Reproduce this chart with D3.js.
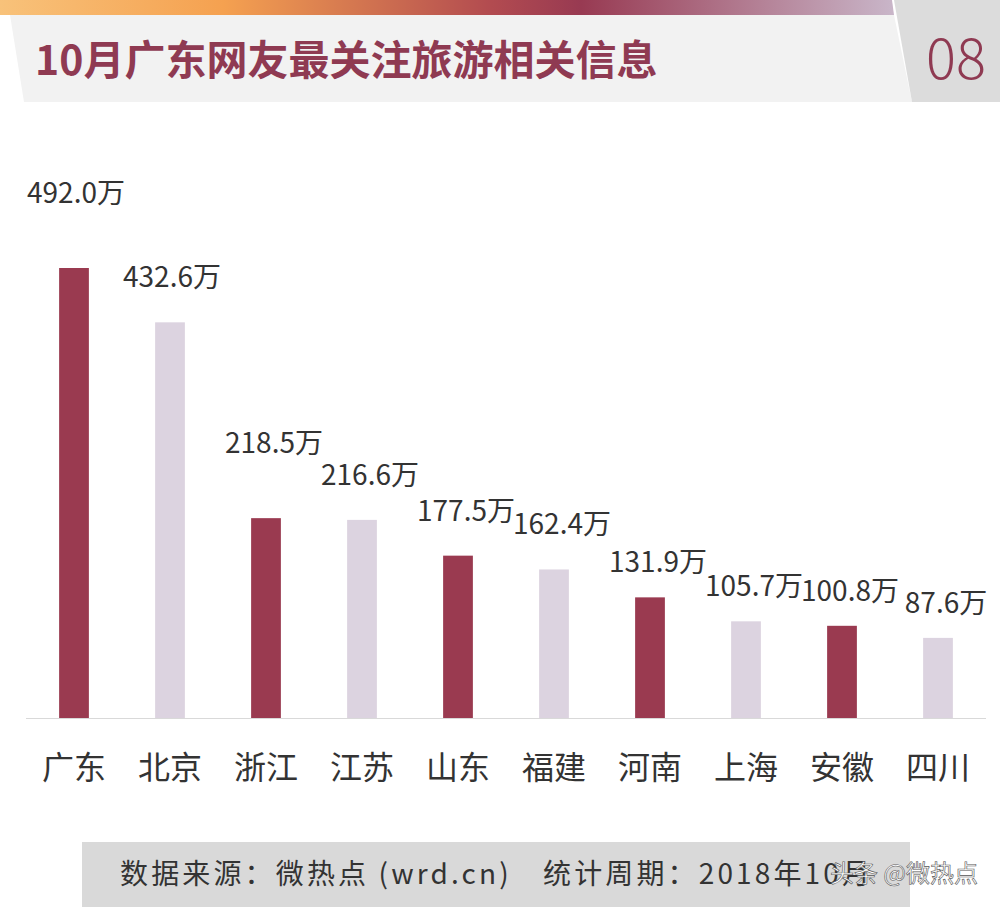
<!DOCTYPE html><html><head><meta charset="utf-8"><script src="https://cdn.jsdelivr.net/npm/d3@7"></script>
<style>body{margin:0;background:#fff}</style></head><body><svg id="c" width="1000" height="907"></svg>
<script>
const categories=["广东","北京","浙江","江苏","山东","福建","河南","上海","安徽","四川"];
const values=[492.0,432.6,218.5,216.6,177.5,162.4,131.9,105.7,100.8,87.6];
const unit="万";
const svg=d3.select("#c");
const F="'Noto Sans CJK SC','Noto Sans',sans-serif";
const defs=svg.append("defs");
const g=defs.append("linearGradient").attr("id","hg");
[[0,"#f8c27a"],[0.25,"#f5a150"],[0.55,"#b24b50"],[0.65,"#983a52"],[1,"#c9b6c9"]].forEach(s=>g.append("stop").attr("offset",s[0]).attr("stop-color",s[1]));
svg.append("polygon").attr("points","0,0 892,0 894,15 0,15").attr("fill","url(#hg)");
svg.append("polygon").attr("points","10,15 894,15 912,102 24,102").attr("fill","#f2f2f2");
svg.append("polygon").attr("points","894,0 1000,0 1000,102 912,102").attr("fill","#dcdcdc");
svg.append("text").attr("x",35).attr("y",75).attr("font-family",F).attr("font-weight",700).attr("font-size",41).attr("fill","#8f3a52").text("10月广东网友最关注旅游相关信息");
svg.append("text").attr("x",986).attr("y",79).attr("text-anchor","end").attr("font-family",F).attr("font-weight",300).attr("font-size",56).attr("fill","#8f3a52").text("08");
const x=d3.scaleBand().domain(categories).range([26,986]).paddingInner(0.69).paddingOuter(0.345);
const y=d3.scaleLinear().domain([0,492]).range([718,268]);
svg.append("line").attr("x1",26).attr("x2",986).attr("y1",718.5).attr("y2",718.5).attr("stroke","#d9d9d9");
svg.selectAll("rect.b").data(values).join("rect").attr("x",(d,i)=>x(categories[i])).attr("width",x.bandwidth())
 .attr("y",d=>y(d)).attr("height",d=>y(0)-y(d)).attr("fill",(d,i)=>i%2?"#dcd3e0":"#9a3a50");
svg.selectAll("text.v").data(values).join("text").attr("x",(d,i)=>x(categories[i])+x.bandwidth()/2+(i<2?2:8)).attr("y",(d,i)=>y(d)-((i%2===0&&d>200)?65:(d>140?35:25)))
 .attr("text-anchor","middle").attr("font-family",F).attr("font-size",28).attr("fill","#333").text(d=>d.toFixed(1)+unit);
svg.selectAll("text.c").data(categories).join("text").attr("x",d=>x(d)+x.bandwidth()/2).attr("y",779)
 .attr("text-anchor","middle").attr("font-family",F).attr("font-size",32).attr("fill","#333").text(d=>d);
svg.append("rect").attr("x",82).attr("y",842).attr("width",828).attr("height",65).attr("fill","#d9d9d9");
svg.append("text").attr("x",120).attr("y",884).attr("font-family",F).attr("font-size",28).attr("fill","#333").attr("textLength",750).text("数据来源：微热点 (wrd.cn)　统计周期：2018年10月");
svg.append("text").attr("x",978).attr("y",882).attr("text-anchor","end").attr("font-family",F).attr("font-size",24).attr("fill","#fff").attr("stroke","#555").attr("stroke-width",0.6).text("头条 @微热点");
</script></body></html>
